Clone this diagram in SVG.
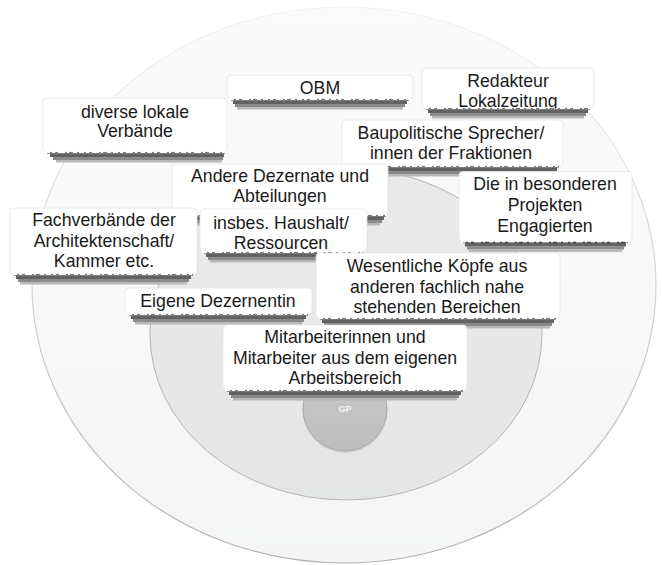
<svg xmlns="http://www.w3.org/2000/svg" width="662" height="565" viewBox="0 0 662 565">
<defs>
  <linearGradient id="outerFill" x1="0" y1="0" x2="0" y2="1">
    <stop offset="0" stop-color="#fbfbfb"/>
    <stop offset="1" stop-color="#f4f5f5"/>
  </linearGradient>
  <linearGradient id="outerStroke" x1="0" y1="0" x2="0" y2="1">
    <stop offset="0" stop-color="#f3f3f3"/>
    <stop offset="0.45" stop-color="#d6d6d6"/>
    <stop offset="1" stop-color="#b2b2b2"/>
  </linearGradient>
  <linearGradient id="midFill" x1="0" y1="0" x2="0" y2="1">
    <stop offset="0" stop-color="#eaeaea"/>
    <stop offset="1" stop-color="#e4e5e6"/>
  </linearGradient>
  <linearGradient id="gpFill" x1="0" y1="0" x2="0" y2="1">
    <stop offset="0" stop-color="#c9c9c9"/>
    <stop offset="1" stop-color="#bdbdbd"/>
  </linearGradient>
  <clipPath id="clipRed"><rect x="422" y="60" width="172" height="48.5"/></clipPath>
</defs>
<style>
  .s1{fill:#383838}
  .s2{fill:#626262}
  .s3{fill:#8a8a8a}
  .s4{fill:#b8b8b8}
  .box{fill:#ffffff;stroke:#e4e4e4;stroke-width:0.8}
  .tl{stroke:#ffffff;stroke-width:2.2;stroke-dasharray:5 2 3 3 7 2 2 4 4 2;fill:none}
  .t{font-family:"Liberation Sans",Arial,Helvetica,sans-serif;font-size:17.7px;fill:#1a1a1a;text-anchor:middle}
  .gpt{font-family:"Liberation Sans",Arial,Helvetica,sans-serif;font-size:9px;font-weight:bold;fill:#f2f2f2;text-anchor:middle}
</style>

<g id="rings">
  <ellipse id="ring-outer" cx="344" cy="285" rx="312" ry="278" fill="url(#outerFill)" stroke="url(#outerStroke)" stroke-width="1.2"/>
  <ellipse id="ring-middle" cx="346" cy="334" rx="196" ry="166" fill="url(#midFill)" stroke="#b6b6b6" stroke-width="1"/>
</g>
<g id="n-gp">
  <circle cx="345" cy="410.5" r="42.5" fill="#d2d3d4"/>
  <circle cx="345" cy="409" r="42" fill="url(#gpFill)" stroke="#a9a9a9" stroke-width="1"/>
  <text class="gpt" x="345" y="412">GP</text>
</g>

<g id="connectors"/>

<g id="n-obm">
  <rect class="s1" x="231" y="98" width="178" height="2.5"/>
  <rect class="s2" x="233" y="100.5" width="174" height="3.5"/>
  <rect class="s3" x="235" y="104" width="170" height="3"/>
  <rect class="s4" x="237" y="107" width="166" height="2.5"/>
  <rect class="box" x="227" y="75" width="186" height="24" rx="4"/>
  <line class="tl" x1="229" y1="99" x2="411" y2="99"/>
  <text class="t" x="320" y="94">OBM</text>
</g>
<g id="n-redakteur">
  <rect class="s1" x="426" y="107" width="164" height="2.5"/>
  <rect class="s2" x="428" y="109.5" width="160" height="3.5"/>
  <rect class="s3" x="430" y="113" width="156" height="3"/>
  <rect class="s4" x="432" y="116" width="152" height="2.5"/>
  <rect class="box" x="422" y="68" width="172" height="40" rx="4"/>
  <line class="tl" x1="424" y1="108" x2="592" y2="108"/>
  <g clip-path="url(#clipRed)">
    <text class="t" x="508" y="87">Redakteur</text>
    <text class="t" x="508" y="107">Lokalzeitung</text>
  </g>
</g>
<g id="n-diverse">
  <rect class="s1" x="47" y="151" width="178" height="2.5"/>
  <rect class="s2" x="50" y="153.5" width="174" height="3.5"/>
  <rect class="s3" x="53" y="157" width="170" height="3"/>
  <rect class="s4" x="56" y="160" width="166" height="2.5"/>
  <rect class="box" x="43" y="98" width="184" height="54" rx="4"/>
  <line class="tl" x1="45" y1="152" x2="225" y2="152"/>
  <text class="t" x="135" y="117.5">diverse lokale</text>
  <text class="t" x="135" y="136.5">Verbände</text>
</g>
<g id="n-baupolitische">
  <rect class="s1" x="346" y="165" width="213" height="2.5"/>
  <rect class="s2" x="348" y="167.5" width="209" height="3.5"/>
  <rect class="s3" x="350" y="171" width="205" height="3"/>
  <rect class="s4" x="352" y="174" width="201" height="2.5"/>
  <rect class="box" x="342" y="120" width="221" height="46" rx="4"/>
  <line class="tl" x1="344" y1="166" x2="561" y2="166"/>
  <text class="t" x="451" y="138.5">Baupolitische Sprecher/</text>
  <text class="t" x="451" y="158.5">innen der Fraktionen</text>
</g>
<g id="n-andere">
  <rect class="s1" x="176" y="214" width="210" height="2.5"/>
  <rect class="s2" x="178" y="216.5" width="206" height="3.5"/>
  <rect class="s3" x="180" y="220" width="202" height="3"/>
  <rect class="s4" x="182" y="223" width="198" height="2.5"/>
  <rect class="box" x="172" y="164" width="216" height="51" rx="4"/>
  <line class="tl" x1="174" y1="215" x2="386" y2="215"/>
  <text class="t" x="280" y="182">Andere Dezernate und</text>
  <text class="t" x="280" y="202">Abteilungen</text>
</g>
<g id="n-projekte">
  <rect class="s1" x="463" y="240.5" width="165" height="2.5"/>
  <rect class="s2" x="465" y="243" width="161" height="3.5"/>
  <rect class="s3" x="467" y="246.5" width="157" height="3"/>
  <rect class="s4" x="469" y="249.5" width="153" height="2.5"/>
  <rect class="box" x="459" y="171.5" width="173" height="70" rx="4"/>
  <line class="tl" x1="461" y1="241.5" x2="630" y2="241.5"/>
  <text class="t" x="545" y="189.5">Die in besonderen</text>
  <text class="t" x="545" y="211">Projekten</text>
  <text class="t" x="545" y="231.5">Engagierten</text>
</g>
<g id="n-haushalt">
  <rect class="s1" x="204" y="251" width="159" height="2.5"/>
  <rect class="s2" x="206" y="253.5" width="155" height="3.5"/>
  <rect class="s3" x="208" y="257" width="151" height="3"/>
  <rect class="s4" x="210" y="260" width="147" height="2.5"/>
  <rect class="box" x="200" y="209" width="167" height="43" rx="4"/>
  <line class="tl" x1="202" y1="252" x2="365" y2="252"/>
  <text class="t" x="281" y="229">insbes. Haushalt/</text>
  <text class="t" x="281" y="248.5">Ressourcen</text>
</g>
<g id="n-fachverbaende">
  <rect class="s1" x="14" y="273" width="179" height="2.5"/>
  <rect class="s2" x="16" y="275.5" width="175" height="3.5"/>
  <rect class="s3" x="18" y="279" width="171" height="3"/>
  <rect class="s4" x="20" y="282" width="167" height="2.5"/>
  <rect class="box" x="10" y="208" width="187" height="66" rx="4"/>
  <line class="tl" x1="12" y1="274" x2="195" y2="274"/>
  <text class="t" x="104" y="226">Fachverbände der</text>
  <text class="t" x="104" y="246.5">Architektenschaft/</text>
  <text class="t" x="104" y="266.5">Kammer etc.</text>
</g>
<g id="n-koepfe">
  <rect class="s1" x="320" y="317" width="236" height="2.5"/>
  <rect class="s2" x="322" y="319.5" width="232" height="3.5"/>
  <rect class="s3" x="324" y="323" width="228" height="3"/>
  <rect class="s4" x="326" y="326" width="224" height="2.5"/>
  <rect class="box" x="316" y="253" width="244" height="65" rx="4"/>
  <line class="tl" x1="318" y1="318" x2="558" y2="318"/>
  <text class="t" x="437" y="272">Wesentliche Köpfe aus</text>
  <text class="t" x="437" y="292.5">anderen fachlich nahe</text>
  <text class="t" x="437" y="313">stehenden Bereichen</text>
</g>
<g id="n-dezernentin">
  <rect class="s1" x="129" y="313" width="179" height="2.5"/>
  <rect class="s2" x="131" y="315.5" width="175" height="3.5"/>
  <rect class="s3" x="133" y="319" width="171" height="3"/>
  <rect class="s4" x="135" y="322" width="167" height="2.5"/>
  <rect class="box" x="125" y="288" width="187" height="26" rx="4"/>
  <line class="tl" x1="127" y1="314" x2="310" y2="314"/>
  <text class="t" x="218" y="307">Eigene Dezernentin</text>
</g>
<g id="n-mitarbeiter">
  <rect class="s1" x="227" y="389" width="236" height="2.5"/>
  <rect class="s2" x="229" y="391.5" width="232" height="3.5"/>
  <rect class="s3" x="231" y="395" width="228" height="3"/>
  <rect class="s4" x="233" y="398" width="224" height="2.5"/>
  <rect class="box" x="223" y="325" width="244" height="65" rx="4"/>
  <line class="tl" x1="225" y1="390" x2="465" y2="390"/>
  <text class="t" x="345" y="343">Mitarbeiterinnen und</text>
  <text class="t" x="345" y="363.5">Mitarbeiter aus dem eigenen</text>
  <text class="t" x="345" y="383.5">Arbeitsbereich</text>
</g>
</svg>
